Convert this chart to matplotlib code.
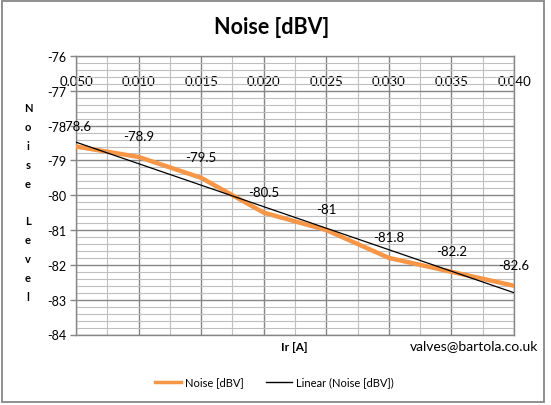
import numpy as np
import matplotlib
matplotlib.use("Agg")
import matplotlib.pyplot as plt
from matplotlib.patches import Rectangle
from matplotlib.lines import Line2D

# ---- data ----
current = [0.005, 0.010, 0.015, 0.020, 0.025, 0.030, 0.035, 0.040]
noise = [-78.6, -78.9, -79.5, -80.5, -81.0, -81.8, -82.2, -82.6]
x_tick_labels = ["0.050", "0.010", "0.015", "0.020", "0.025", "0.030", "0.035", "0.040"]
point_labels = ["-78.6", "-78.9", "-79.5", "-80.5", "-81", "-81.8", "-82.2", "-82.6"]
y_ticks = [-76, -77, -78, -79, -80, -81, -82, -83, -84]

plt.rcParams['font.family'] = ['Lato', 'DejaVu Sans']

W, H = 551, 406
fig = plt.figure(figsize=(W / 100, H / 100), dpi=100)

def fx(px):
    return px / W

def fy(py):
    return 1 - py / H

L, R, T, B = 76, 514, 57, 335.5
ax = fig.add_axes([fx(L), fy(B), fx(R) - fx(L), fy(T) - fy(B)])

orange = "#F79646"
major_c = "#868686"
minor_c = "#BFBFBF"

ax.set_xlim(0.005, 0.040)
ax.set_ylim(-84, -76)

# grids
ax.set_xticks(current)
ax.set_xticklabels(x_tick_labels)
ax.set_xticks(np.arange(0.0075, 0.040, 0.005), minor=True)
ax.set_yticks(y_ticks)
ax.set_yticklabels([str(v) for v in y_ticks])
ax.set_yticks(np.arange(-84, -76, 0.2), minor=True)
ax.grid(which='major', color=major_c, linewidth=1.0)
ax.grid(which='minor', color=minor_c, linewidth=0.8)
ax.set_axisbelow(True)

ax.xaxis.set_ticks_position('top')
ax.tick_params(axis='x', which='both', length=0, pad=-22, labelsize=9.5, colors='black')
ax.tick_params(axis='y', which='major', length=4, width=1, color=major_c, labelsize=9, pad=3)
ax.tick_params(axis='y', which='minor', length=0)
for s in ax.spines.values():
    s.set_color(major_c)
    s.set_linewidth(1.0)

# series
ax.plot(current, noise, color=orange, linewidth=3.2, solid_joinstyle='round', zorder=3)
coef = np.polyfit(current, noise, 1)
xs = np.array([current[0], current[-1]])
ax.plot(xs, np.polyval(coef, xs), color='black', linewidth=0.9, zorder=4)

for xv, yv, lab in zip(current, noise, point_labels):
    ax.annotate(lab, (xv, yv), xytext=(0, 10.5), textcoords='offset points',
                ha='center', va='bottom', fontsize=9.5, zorder=5)

# titles and labels
fig.text(fx(272), fy(28), "Noise [dBV]", ha='center', va='center',
         fontsize=15.5, fontweight='bold')
fig.text(fx(28), fy(203), "N\no\ni\ns\ne\n\nL\ne\nv\ne\nl", ha='center', va='center',
         fontsize=8, fontweight='bold', linespacing=1.87)
fig.text(fx(294), fy(348), "Ir [A]", ha='center', va='center', fontsize=8.5, fontweight='bold')
fig.text(fx(474), fy(346), "valves@bartola.co.uk", ha='center', va='center', fontsize=10)

handles = [Line2D([], [], color=orange, linewidth=2.5),
           Line2D([], [], color='black', linewidth=1.0)]
fig.legend(handles, ["Noise [dBV]", "Linear (Noise [dBV])"], loc='center',
           bbox_to_anchor=(fx(274), fy(383)), ncol=2, frameon=False, fontsize=8,
           handlelength=2.4, handletextpad=0.3, columnspacing=2.0)

fig.patches.append(Rectangle((fx(2), fy(403)), fx(542), fy(2) - fy(403),
                             transform=fig.transFigure, fill=False,
                             edgecolor=major_c, linewidth=1.3))

fig.savefig("out.png", dpi=100)
